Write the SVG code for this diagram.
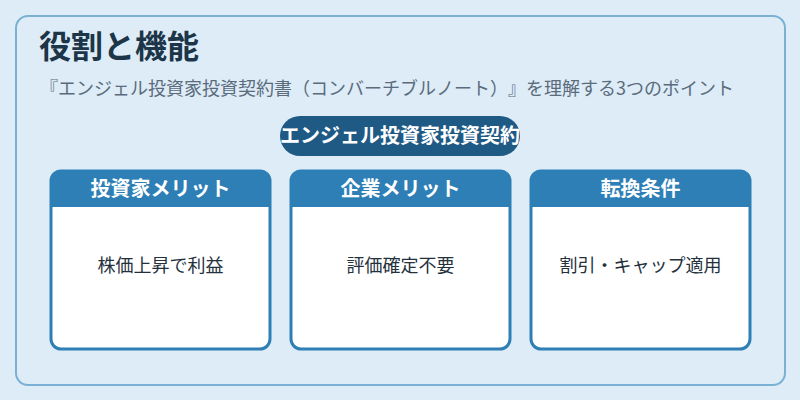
<svg xmlns="http://www.w3.org/2000/svg" width="800" height="400" viewBox="0 0 800 400">
<style>
text{font-family:"Noto Sans CJK JP","Noto Sans",sans-serif;text-spacing-trim:space-all}
.card{fill:#ffffff;stroke:#2e7fb5;stroke-width:3}
.hdr{fill:#2e7fb5}
.ht{fill:#ffffff;font-size:20px;font-weight:bold;text-anchor:middle}
.bt{fill:#24313d;font-size:18px;text-anchor:middle}
</style>
<rect x="0" y="0" width="800" height="400" fill="#ddecf7"/>
<rect x="16" y="16" width="769" height="369" rx="12" fill="#ddecf7" stroke="#7ab0d4" stroke-width="2"/>
<text x="39" y="58" font-size="32" font-weight="bold" fill="#1c3548">役割と機能</text>
<text x="40" y="95" font-size="18" fill="#5a6b7c">『エンジェル投資家投資契約書（コンバーチブルノート）』を理解する3つのポイント</text>
<g id="center">
<rect x="280" y="116" width="240" height="40" rx="20" fill="#1f5a85"/>
<text x="400" y="143" font-size="20" font-weight="bold" fill="#ffffff" text-anchor="middle">エンジェル投資家投資契約</text>
</g>
<g id="card1">
<rect class="card" x="51" y="171" width="219" height="178" rx="10"/>
<path class="hdr" d="M51,207 V181 A10,10 0 0 1 61,171 H260 A10,10 0 0 1 270,181 V207 Z"/>
<text class="ht" x="160.5" y="196">投資家メリット</text>
<text class="bt" x="160.5" y="272">株価上昇で利益</text>
</g>
<g id="card2">
<rect class="card" x="291" y="171" width="219" height="178" rx="10"/>
<path class="hdr" d="M291,207 V181 A10,10 0 0 1 301,171 H500 A10,10 0 0 1 510,181 V207 Z"/>
<text class="ht" x="400.5" y="196">企業メリット</text>
<text class="bt" x="400.5" y="272">評価確定不要</text>
</g>
<g id="card3">
<rect class="card" x="531" y="171" width="219" height="178" rx="10"/>
<path class="hdr" d="M531,207 V181 A10,10 0 0 1 541,171 H740 A10,10 0 0 1 750,181 V207 Z"/>
<text class="ht" x="640.5" y="196">転換条件</text>
<text class="bt" x="640.5" y="272">割引・キャップ適用</text>
</g>
<g id="connectors"></g>
</svg>
